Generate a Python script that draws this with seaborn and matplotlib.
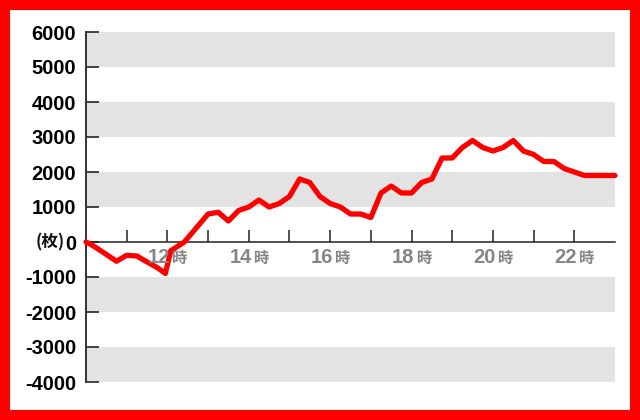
import numpy as np
import pandas as pd
import matplotlib
matplotlib.use("Agg")
import matplotlib.pyplot as plt
from matplotlib.patches import Rectangle
import seaborn as sns

# data (time of day, cumulative count in 枚)
times = ["10:00", "10:10", "10:45", "11:00", "11:15", "11:30", "11:45", "11:57",
         "12:05", "12:25", "13:00", "13:15", "13:30", "13:45", "14:00", "14:15",
         "14:30", "14:45", "15:00", "15:15", "15:30", "15:45", "16:00", "16:15",
         "16:30", "16:45", "17:00", "17:15", "17:30", "17:45", "18:00", "18:15",
         "18:30", "18:45", "19:00", "19:15", "19:30", "19:45", "20:00", "20:15",
         "20:30", "20:45", "21:00", "21:15", "21:30", "21:45", "22:00", "22:15",
         "22:30", "22:45", "23:00"]
values = [0, -100, -550, -380, -400, -570, -730, -900,
          -250, 0, 800, 850, 600, 900, 1000, 1200,
          1000, 1100, 1300, 1800, 1700, 1300, 1100, 1000,
          800, 800, 700, 1400, 1600, 1400, 1400, 1700,
          1800, 2400, 2400, 2700, 2900, 2700, 2600, 2700,
          2900, 2600, 2500, 2300, 2300, 2100, 2000, 1900,
          1900, 1900, 1900]
y_ticks = [6000, 5000, 4000, 3000, 2000, 1000, 0, -1000, -2000, -3000, -4000]
hour_ticks = list(range(11, 23))
hour_labels = [12, 14, 16, 18, 20, 22]

df = pd.DataFrame({"time": times, "value": values})
df["hour"] = df["time"].apply(lambda s: int(s[:2]) + int(s[3:]) / 60)

sns.set_style("white")
plt.rcParams["font.family"] = ["Liberation Sans", "Noto Sans CJK JP"]

fig = plt.figure(figsize=(6.4, 4.2), dpi=100)
ax = fig.add_axes([86 / 640, 38 / 420, 529 / 640, 350 / 420])

# grey bands: every interval whose outer edge is an even thousand
edges = sorted(y_ticks)
for a, b in zip(edges[:-1], edges[1:]):
    outer = a if abs(a) > abs(b) else b
    if (abs(outer) // 1000) % 2 == 0:
        ax.axhspan(a, b, color="#e3e3e3", lw=0, zorder=0)

sns.lineplot(data=df, x="hour", y="value", ax=ax, color="#ff0000", lw=3.8,
             zorder=3, clip_on=False)

ax.set_xlim(10, 23)
ax.set_ylim(-4000, 6000)
ax.set_xlabel("")
ax.set_ylabel("")

for s in ["top", "right"]:
    ax.spines[s].set_visible(False)
ax.spines["left"].set_color("#333333")
ax.spines["left"].set_linewidth(1.4)
ax.spines["bottom"].set_position(("data", 0))
ax.spines["bottom"].set_color("#222222")
ax.spines["bottom"].set_linewidth(1.1)
ax.spines["bottom"].set_zorder(2)

ax.set_yticks(y_ticks)
ax.set_yticklabels([str(v) for v in y_ticks], fontsize=14.5, fontweight="bold",
                   color="#000000")
ax.tick_params(axis="y", left=True, direction="in", length=9, width=1.3,
               color="#333333", pad=7)
ax.set_xticks(hour_ticks)
ax.set_xticklabels([])
ax.tick_params(axis="x", bottom=True, direction="in", length=9, width=1.1,
               color="#222222")

for h in hour_labels:
    ax.annotate(str(h), xy=(h, 0), xytext=(2, -15), textcoords="offset points",
                ha="right", va="baseline", fontsize=14.5, fontweight="bold",
                color="#858585")
    ax.annotate("時", xy=(h, 0), xytext=(3, -15), textcoords="offset points",
                ha="left", va="baseline", fontsize=11, fontweight="bold",
                color="#858585", family=["Noto Sans CJK JP", "DejaVu Sans"])

ax.annotate("(枚)", xy=(0, 0), xycoords=("axes fraction", "data"),
            xytext=(-15, 0), textcoords="offset points", ha="right",
            va="center", fontsize=12, fontweight="bold", color="#111111",
            family=["Noto Sans CJK JP", "DejaVu Sans"])

# red frame around the figure
fig.patches.append(Rectangle((0, 0), 1, 1, transform=fig.transFigure,
                             fill=False, edgecolor="#ff0000", lw=14.5))

fig.savefig("out.png", dpi=100)
